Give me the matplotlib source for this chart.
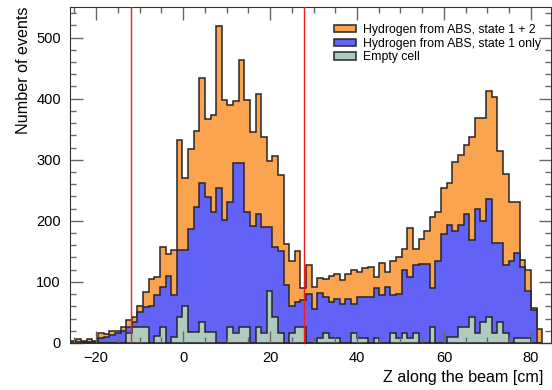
import numpy as np
import matplotlib.pyplot as plt
from matplotlib.ticker import MultipleLocator

plt.rcParams['font.family'] = ['Liberation Sans', 'DejaVu Sans']

# bin edges of the histograms (cm)
z_edges = np.linspace(-26, 82.6, 85)

# counts per bin
state12 = [3, 7, 3, 7, 3, 16, 14, 19, 19, 26, 37, 42, 61, 83, 105, 108, 157, 146, 153,
           332, 270, 317, 347, 433, 367, 374, 519, 398, 390, 396, 464, 398, 346, 407,
           337, 298, 306, 275, 162, 135, 150, 90,
           128, 91, 107, 105, 110, 113, 103, 113, 119, 116, 123, 124, 108, 131, 116,
           135, 141, 154, 189, 154, 170, 183, 206, 214, 254, 262, 297, 307, 324, 337,
           369, 368, 413, 402, 315, 277, 231, 231, 136, 120, 57, 23]
state1 = [1, 2, 1, 2, 2, 8, 10, 13, 16, 20, 27, 35, 50, 59, 61, 78, 91, 109, 78,
          153, 153, 186, 222, 262, 239, 214, 253, 201, 230, 294, 294, 215, 192, 211,
          190, 190, 157, 150, 95, 61, 67, 71,
          80, 56, 82, 75, 67, 72, 64, 72, 64, 75, 76, 76, 90, 78, 91, 78, 80, 120,
          108, 127, 130, 129, 90, 135, 178, 193, 184, 193, 211, 168, 219, 200, 235,
          163, 163, 127, 135, 147, 125, 85, 54, 0]
empty = [0, 0, 0, 0, 0, 0, 0, 0, 0, 0,
         16, 26, 26, 26, 0, 12, 26, 0, 10, 42, 60, 18, 18, 34, 18, 18, 0, 0, 26, 16,
         26, 26, 0, 26, 16, 85, 42, 16, 0, 16, 26, 26,
         0, 0, 8, 16, 8, 8, 0, 0, 16, 8, 8, 0, 8, 0, 0, 16, 8, 16, 8, 16, 0, 0, 26,
         0, 0, 10, 10, 26, 26, 42, 16, 34, 42, 16, 34, 16, 0, 8, 8, 8, 0, 0]

cut_lines = [-12, 27.8]

labels = ['Hydrogen from ABS, state 1 + 2', 'Hydrogen from ABS, state 1 only', 'Empty cell']
colors = ['#fba44f', '#6262f6', '#aecbc0']

centers = 0.5 * (z_edges[:-1] + z_edges[1:])

fig = plt.figure(figsize=(5.52, 3.90), dpi=100)
ax = fig.add_axes([70/552, 1 - 343/390, 480.5/552, 336/390])

for vals, lab, col in zip([state12, state1, empty], labels, colors):
    ax.hist(centers, bins=z_edges, weights=vals, histtype='stepfilled',
            facecolor=col, edgecolor='#262626', linewidth=1.1, label=lab)

for xc in cut_lines:
    ax.axvline(xc, color='#ff1a1a', lw=1.0, zorder=5)

ax.set_xlim(-26, 84.5)
ax.set_ylim(0, 550)
ax.xaxis.set_major_locator(MultipleLocator(20))
ax.xaxis.set_minor_locator(MultipleLocator(5))
ax.yaxis.set_major_locator(MultipleLocator(100))
ax.yaxis.set_minor_locator(MultipleLocator(20))
ax.tick_params(which='both', direction='in', top=True, right=True, color='#666666')
ax.tick_params(which='major', length=9, width=1.0, labelsize=10.5)
ax.tick_params(which='minor', length=4.5, width=1.0)
ax.tick_params(axis='x', pad=6)
ax.tick_params(axis='y', pad=6.5)
for sp in ax.spines.values():
    sp.set_color('#333333')

ax.set_ylabel('Number of events', fontsize=11.6, loc='top', labelpad=4)
ax.set_xlabel('Z along the beam [cm]', fontsize=11.6, loc='right')
ax.xaxis.set_label_coords(473/480.5, -0.08)

ax.legend(loc='upper left', bbox_to_anchor=(0.549, 0.95), frameon=False,
          fontsize=8.8, handlelength=1.8, handleheight=0.55, handletextpad=0.6,
          labelspacing=0.15, borderpad=0, borderaxespad=0)

fig.savefig('out.png', dpi=100)
